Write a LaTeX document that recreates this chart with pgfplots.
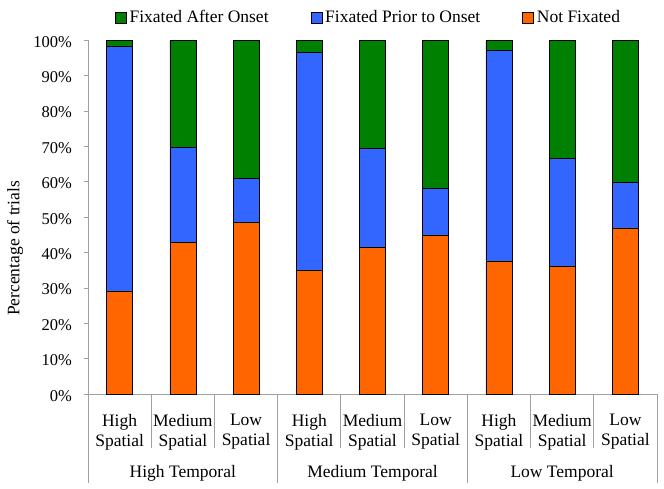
\documentclass[border=0pt]{standalone}
\usepackage{pgfplots}
\pgfplotsset{compat=1.18}
\usepackage{fontspec}
\setmainfont{Liberation Serif}
\definecolor{cgreen}{RGB}{0,128,0}
\definecolor{cblue}{RGB}{51,102,255}
\definecolor{corange}{RGB}{255,102,0}
\definecolor{axgray}{RGB}{160,160,160}
\begin{document}
\fontsize{17.5}{20}\selectfont
\begin{tikzpicture}
\useasboundingbox (0,0) rectangle (664pt,489pt);
\begin{axis}[
  at={(88pt,94.7pt)}, anchor=south west,
  scale only axis, width=569pt, height=354pt,
  ybar stacked, bar width=26pt,
  xmin=-0.5, xmax=8.5, ymin=0, ymax=100,
  axis lines=left, axis line style={-, axgray, line width=0.8pt},
  ytick={0,10,...,100},
  yticklabel={\pgfmathprintnumber{\tick}\%},
  /pgf/number format/assume math mode=true,
  yticklabel style={font=\fontsize{16.5}{20}\selectfont, xshift=-6pt, yshift=-1.5pt},
  ytick style={axgray, line width=0.8pt},
  tick align=outside, major tick length=4pt,
  xtick={0,...,8},
  xtick style={draw=none},
  xticklabels={High\\Spatial,Medium\\Spatial,Low\\Spatial,High\\Spatial,Medium\\Spatial,Low\\Spatial,High\\Spatial,Medium\\Spatial,Low\\Spatial},
  xticklabel style={align=center, anchor=center, yshift=-33.7pt, font=\fontsize{17.5}{20}\selectfont},
  clip=false,
  every axis plot/.append style={draw=black, line width=0.6pt},
  reverse legend,
  legend columns=3,
  legend style={draw=none, fill=none, at={(rel axis cs:0.493,1.063)}, anchor=center,
    font=\fontsize{17.5}{20}\selectfont,
    /tikz/every even column/.append style={column sep=40pt},
    /tikz/every odd column/.append style={column sep=1pt},
    inner sep=0pt},
  legend image code/.code={\draw[#1, draw=black, line width=0.6pt] (0pt,-5pt) rectangle (11pt,6pt);},
]
\addplot[fill=corange] coordinates {(0,29.2) (1,42.8) (2,48.6) (3,34.9) (4,41.5) (5,45.0) (6,37.7) (7,36.2) (8,47.0)};
\addplot[fill=cblue] coordinates {(0,69.0) (1,27.1) (2,12.3) (3,61.6) (4,27.9) (5,13.3) (6,59.6) (7,30.4) (8,12.8)};
\addplot[fill=cgreen] coordinates {(0,1.8) (1,30.1) (2,39.1) (3,3.5) (4,30.6) (5,41.7) (6,2.7) (7,33.4) (8,40.2)};
\legend{Not Fixated, Fixated Prior to Onset, Fixated After Onset}
\pgfplotsinvokeforeach{-0.5,2.5,5.5,8.5}{
  \draw[axgray, line width=0.8pt] (axis cs:#1,0) -- ([yshift=-88.7pt]axis cs:#1,0);
}
\pgfplotsinvokeforeach{0.5,1.5,3.5,4.5,6.5,7.5}{
  \draw[axgray, line width=0.8pt] (axis cs:#1,0) -- ([yshift=-53.7pt]axis cs:#1,0);
}
\node at ([yshift=-78.7pt]axis cs:1,0) {High Temporal};
\node at ([yshift=-78.7pt]axis cs:4,0) {Medium Temporal};
\node at ([yshift=-78.7pt]axis cs:7,0) {Low Temporal};
\node[rotate=90] at ([xshift=-73pt]axis cs:-0.5,41.2) {Percentage of trials};
\end{axis}
\end{tikzpicture}
\end{document}
